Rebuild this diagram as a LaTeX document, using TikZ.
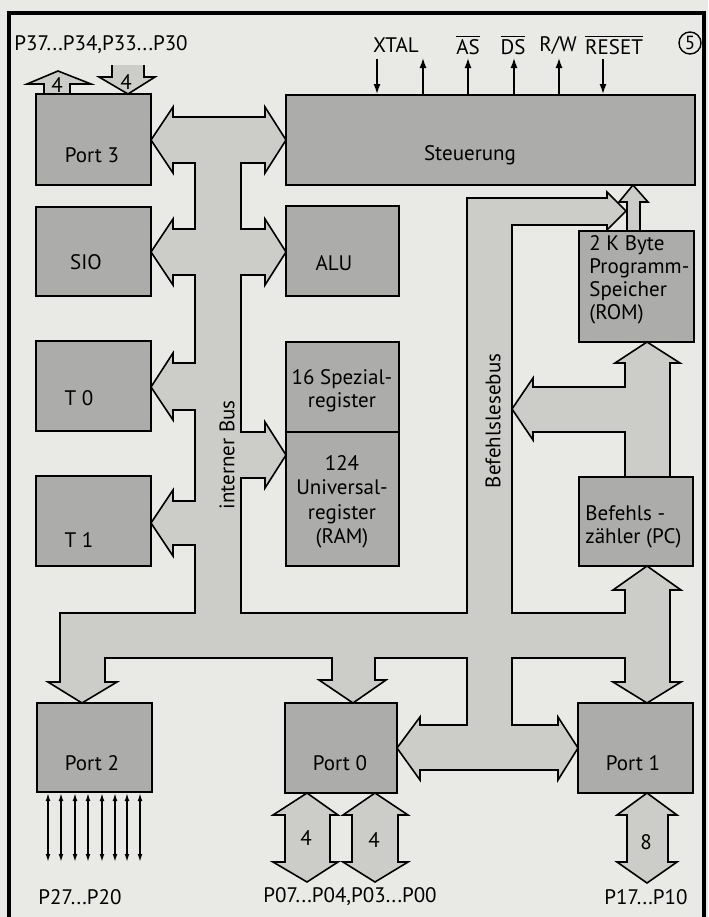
\documentclass[tikz,border=0pt]{standalone}
\usepackage{fontspec}
\setmainfont{PT Sans}
\usetikzlibrary{arrows.meta}
\definecolor{paper}{RGB}{233,233,229}
\definecolor{boxgray}{RGB}{172,172,170}
\definecolor{busgray}{RGB}{204,204,201}
\tikzset{
  blk/.style={draw, fill=boxgray, line width=1pt, inner sep=0pt},
  bus/.style={draw, fill=busgray, line width=0.8pt, line join=miter},
  lbl/.style={font=\fontsize{10.5}{11.5}\selectfont, inner sep=0pt},
  sig/.style={-{Latex[length=5pt,width=3.5pt]}, line width=0.7pt},
  pin/.style={{Latex[length=4pt,width=2.4pt]}-{Latex[length=4pt,width=2.4pt]}, line width=0.7pt},
}

\begin{document}
\begin{tikzpicture}[x=0.5pt, y=-0.5pt]
	\useasboundingbox[fill=paper] (0,0) rectangle (708,917);
	
	% frame
	\draw[line width=1.6pt] (9,917) -- (9,13) -- (704,13) -- (704,917);
	\node[draw, circle, line width=0.7pt, minimum size=11pt, inner sep=0pt, font=\fontsize{9.5}{10}\selectfont] (nr) at (690,43) {5};
	
	% internal bus, bottom bus and Befehlslesebus
	\draw[bus] (151,140) -- (173,107) -- (173,117) -- (265,117) -- (265,107) -- (286,140)
		-- (265,173) -- (265,163) -- (241,163)
		-- (241,229) -- (265,229) -- (265,219) -- (286,252) -- (265,285) -- (265,275) -- (241,275)
		-- (241,432) -- (265,432) -- (265,422) -- (286,455) -- (265,488) -- (265,478) -- (241,478)
		-- (241,613) -- (467,613) -- (467,198) -- (607,198) -- (607,192) -- (626,211) -- (607,230) -- (607,225)
		-- (512,225) -- (512,613) -- (625,613) -- (625,590) -- (613,590) -- (647,566) -- (681,590) -- (670,590)
		-- (670,682) -- (681,682) -- (647,703) -- (613,682) -- (625,682) -- (625,658) -- (512,658)
		-- (512,725) -- (558,725) -- (558,717) -- (578,748) -- (558,780) -- (558,770)
		-- (420,770) -- (420,780) -- (397,748) -- (420,717) -- (420,725) -- (467,725) -- (467,658)
		-- (375,658) -- (375,680) -- (386,680) -- (353,703) -- (319,680) -- (332,680) -- (332,658)
		-- (105,658) -- (105,682) -- (117,682) -- (82,703) -- (48,682) -- (60,682) -- (60,613)
		-- (195,613) -- (195,545) -- (173,545) -- (173,556) -- (151,523) -- (173,490) -- (173,501) -- (195,501)
		-- (195,410) -- (173,410) -- (173,420) -- (151,387) -- (173,353) -- (173,363) -- (195,363)
		-- (195,275) -- (173,275) -- (173,285) -- (151,252) -- (173,219) -- (173,229) -- (195,229)
		-- (195,163) -- (173,163) -- (173,173) -- cycle;
	
	% PC to ROM and Befehlslesebus
	\draw[bus] (625,477) -- (625,432) -- (533,432) -- (533,440) -- (512,409) -- (533,378) -- (533,387)
		-- (625,387) -- (625,363) -- (615,363) -- (647,342) -- (680,363) -- (670,363) -- (670,477) -- cycle;
	% ROM to Steuerung
	\draw[bus] (627,231) -- (627,202) -- (619,202) -- (633,185) -- (648,202) -- (640,202) -- (640,231) -- cycle;
	
	% port pins
	\draw[bus] (44,94) -- (44,84) -- (27,84) -- (58,71) -- (91,84) -- (70,84) -- (70,94) -- cycle;
	\fill[busgray] (112,65) rectangle (144,78);
	\draw[bus] (112,65) -- (112,77) -- (99,77) -- (128,94) -- (155,77) -- (144,77) -- (144,65);
	\draw[bus] (307,793) -- (338,815) -- (330,815) -- (330,862) -- (338,862) -- (307,882)
		-- (273,862) -- (285,862) -- (285,815) -- (273,815) -- cycle;
	\draw[bus] (375,793) -- (408,815) -- (398,815) -- (398,862) -- (408,862) -- (375,882)
		-- (343,862) -- (352,862) -- (352,815) -- (343,815) -- cycle;
	\draw[bus] (647,793) -- (677,815) -- (668,815) -- (668,862) -- (677,862) -- (647,883)
		-- (617,862) -- (627,862) -- (627,815) -- (617,815) -- cycle;
	
	% blocks
	\node[blk, minimum width=57.5pt, minimum height=45.5pt] (port3) at (93.5,139.5) {};
	\node[blk, minimum width=204.5pt, minimum height=45pt] (steu) at (490.5,140) {};
	\node[blk, minimum width=57.5pt, minimum height=44.5pt] (sio) at (93.5,251.5) {};
	\node[blk, minimum width=56.5pt, minimum height=45pt] (alu) at (342.5,251) {};
	\node[blk, minimum width=57.5pt, minimum height=45pt] (t0) at (93.5,386) {};
	\node[blk, minimum width=57.5pt, minimum height=45pt] (t1) at (93.5,521) {};
	\node[blk, minimum width=56.5pt, minimum height=45pt] (spez) at (342.5,387) {};
	\node[blk, minimum width=56.5pt, minimum height=67pt] (ram) at (342.5,499) {};
	\node[blk, minimum width=57.5pt, minimum height=55.5pt] (rom) at (636.5,286.5) {};
	\node[blk, minimum width=57pt, minimum height=44.5pt] (pc) at (636,521.5) {};
	\node[blk, minimum width=57.5pt, minimum height=44.5pt] (port2) at (94.5,747.5) {};
	\node[blk, minimum width=56pt, minimum height=45pt] (port0) at (341,748) {};
	\node[blk, minimum width=57.5pt, minimum height=45pt] (port1) at (635.5,748) {};
	
	% block texts
	\node[lbl] (port3-t) at (92,155) {Port 3};
	\node[lbl] (steu-t) at (470,155) {Steuerung};
	\node[lbl] (sio-t) at (86,262) {SIO};
	\node[lbl] (alu-t) at (334,263) {ALU};
	\node[lbl] (t0-t) at (79,398) {T 0};
	\node[lbl] (t1-t) at (79,540) {T 1};
	\node[lbl, align=center] (spez-t) at (342,391) {16 Spezial-\\register};
	\node[lbl, align=center, font=\fontsize{10.5}{12.2}\selectfont] (ram-t) at (342,502) {124\\Universal-\\register\\(RAM)};
	\node[lbl, align=left, anchor=west] (rom-t) at (589,280) {2 K Byte\\Programm-\\Speicher\\(ROM)};
	\node[lbl, align=left, anchor=west] (pc-t) at (585,527) {Befehls -\\zähler (PC)};
	\node[lbl] (port2-t) at (92,763) {Port 2};
	\node[lbl] (port0-t) at (340,763) {Port 0};
	\node[lbl] (port1-t) at (633,763) {Port 1};
	\node[lbl, rotate=90] (ibus) at (227,455) {interner Bus};
	\node[lbl, rotate=90] (bbus) at (493,421) {Befehlslesebus};
	
	% pin labels
	\node[lbl] (p3-lbl) at (101,45) {P37...P34,P33...P30};
	\node[lbl] (p3a) at (57,85) {4};
	\node[lbl] (p3b) at (126,82) {4};
	\node[lbl] (p0a) at (306,838) {4};
	\node[lbl] (p0b) at (374,840) {4};
	\node[lbl] (p1n) at (646,842) {8};
	\node[lbl] (p2-lbl) at (80,897) {P27...P20};
	\node[lbl] (p0-lbl) at (350,897) {P07...P04,P03...P00};
	\node[lbl] (p1-lbl) at (646,897) {P17...P10};
	
	% port 2 lines
	\foreach \x in {48,61,75,88,102,115,127,140}
		\draw[pin] (\x,862) -- (\x,793);
	
	% control signals
	\node[lbl] (xtal) at (396,45) {XTAL};
	\node[lbl] (as) at (468,45) {$\overline{\mbox{AS}}$};
	\node[lbl] (ds) at (513,45) {$\overline{\mbox{DS}}$};
	\node[lbl] (rw) at (558,45) {R/W};
	\node[lbl] (reset) at (614,45) {$\overline{\mbox{RESET}}$};
	\coordinate (s1) at (377,59);
	\coordinate (s2) at (423,58);
	\coordinate (s3) at (468,58);
	\coordinate (s4) at (514,58);
	\coordinate (s5) at (559,58);
	\coordinate (s6) at (603,59);
	\draw[sig] (s1) -- (s1 |- steu.north);
	\foreach \s in {s2,s3,s4,s5}
		\draw[sig] (\s |- steu.north) -- (\s);
	\draw[sig] (s6) -- (s6 |- steu.north);
\end{tikzpicture}
\end{document}
